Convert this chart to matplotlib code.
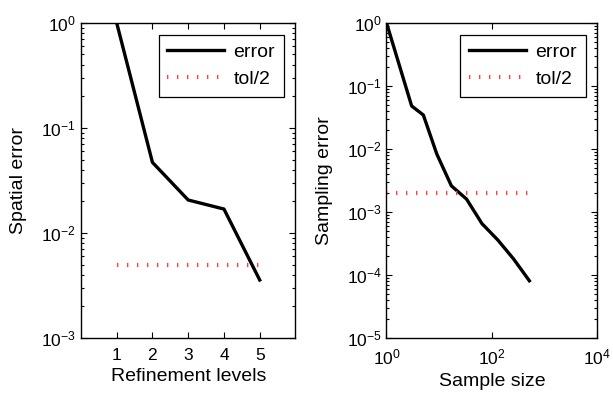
import matplotlib
matplotlib.use("Agg")
import matplotlib.pyplot as plt
import matplotlib.ticker as mticker

# left panel: spatial error vs refinement level
levels = [1, 2, 3, 4, 5]
spatial_err = [1.0, 0.047, 0.0206, 0.0169, 0.00357]
spatial_tol = [0.005, 0.005]
spatial_tol_x = [1, 5]

# right panel: sampling error vs sample size
samples = [1, 3, 5, 9, 17, 33, 65, 129, 257, 513]
sampling_err = [1.0, 0.048, 0.0345, 0.0083, 0.0026, 0.0016, 0.00065, 0.00036, 0.00018, 0.000081]
sampling_tol = [0.002, 0.002]
sampling_tol_x = [1, 513]

plt.rcParams["font.family"] = ["Liberation Sans", "DejaVu Sans"]
plt.rcParams["mathtext.fontset"] = "custom"
plt.rcParams["mathtext.rm"] = "Liberation Sans"
plt.rcParams["mathtext.it"] = "Liberation Sans"

fig = plt.figure(figsize=(6.13, 3.94), dpi=100)
ax1 = fig.add_axes([0.132, 0.142, 0.350, 0.800])
ax2 = fig.add_axes([0.6305, 0.142, 0.344, 0.800])

tol_style = dict(color="#ff4040", lw=3, dashes=(0.33, 2.07), dash_capstyle="butt")


def style_axis(ax):
    ax.set_yscale("log")
    ax.tick_params(which="both", direction="in", top=True, right=True, labelsize=12.5, width=0.8)
    ax.tick_params(which="major", length=4)
    ax.tick_params(which="minor", length=2.5)
    ax.tick_params(axis="x", pad=7)
    for sp in ax.spines.values():
        sp.set_linewidth(1.0)
    ax.legend(loc="upper right", fontsize=14, frameon=True, fancybox=False, edgecolor="black",
              framealpha=1, borderaxespad=0.6, handlelength=2.9, handletextpad=0.5,
              borderpad=0.45, labelspacing=0.5).get_frame().set_linewidth(0.9)


ax1.plot(levels, spatial_err, color="black", lw=2.4, label="error")
ax1.plot(spatial_tol_x, spatial_tol, label="tol/2", **tol_style)
ax1.set_xlim(0, 6)
ax1.set_ylim(1e-3, 1)
ax1.set_xticks(levels)
ax1.set_xlabel("Refinement levels", fontsize=14, labelpad=4)
ax1.set_ylabel("Spatial error", fontsize=14, labelpad=10)
style_axis(ax1)

ax2.plot(samples, sampling_err, color="black", lw=2.4, label="error")
ax2.plot(sampling_tol_x, sampling_tol, label="tol/2", **tol_style)
ax2.set_xscale("log")
ax2.set_xlim(1, 1e4)
ax2.set_ylim(1e-5, 1)
ax2.set_xticks([1, 1e2, 1e4])
ax2.xaxis.set_minor_locator(mticker.NullLocator())
ax2.set_xlabel("Sample size", fontsize=14, labelpad=4)
ax2.set_ylabel("Sampling error", fontsize=14, labelpad=10)
style_axis(ax2)

fig.savefig("out.png", dpi=100)
